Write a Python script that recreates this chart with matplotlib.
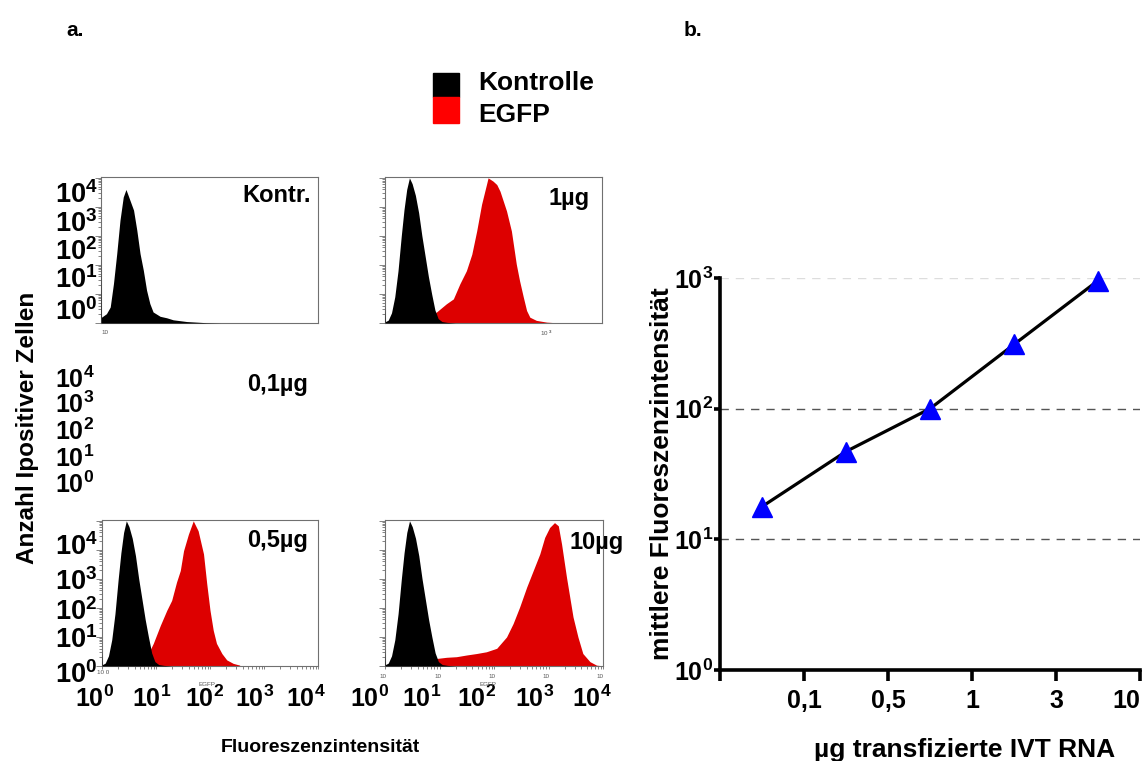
import numpy as np
import matplotlib
matplotlib.use('Agg')
import matplotlib.pyplot as plt
from matplotlib.patches import Rectangle
from matplotlib.ticker import LogLocator, NullLocator

plt.rcParams['font.family'] = 'Liberation Sans'
plt.rcParams['font.weight'] = 'bold'
plt.rcParams['mathtext.fontset'] = 'custom'
plt.rcParams['mathtext.bf'] = 'Liberation Sans:bold'
plt.rcParams['mathtext.rm'] = 'Liberation Sans:bold'
plt.rcParams['mathtext.default'] = 'bf'

W, H = 1145, 761

# --- histogram data (x: log10 Fluoreszenz, y: log10 Anzahl)
ctrl_kontr_x = [0.0, 0.01, 0.10, 0.17, 0.23, 0.29, 0.35, 0.41, 0.46, 0.50, 0.60, 0.66,
                0.72, 0.78, 0.84, 0.90, 0.96, 1.09, 1.21, 1.33, 1.58, 1.94, 2.2]
ctrl_kontr_y = [2.6, 0.2, 0.32, 0.55, 1.36, 2.39, 3.54, 4.34, 4.6, 4.4, 3.89, 3.2,
                2.39, 1.82, 1.13, 0.67, 0.38, 0.23, 0.18, 0.11, 0.05, 0.01, 0.0]

ctrl_x = [0.0, 0.01, 0.06, 0.12, 0.18, 0.24, 0.30, 0.35, 0.40, 0.45, 0.50, 0.56,
          0.62, 0.68, 0.74, 0.80, 0.86, 0.92, 0.98, 1.05, 1.15, 1.3, 1.5]
ctrl_y = [0.6, 0.05, 0.1, 0.35, 0.9, 1.8, 3.0, 3.9, 4.6, 5.0, 4.8, 4.4,
          3.8, 3.0, 2.3, 1.6, 1.0, 0.45, 0.15, 0.05, 0.02, 0.0, 0.0]

egfp_1ug_x = [0.58, 0.77, 0.95, 1.13, 1.26, 1.38, 1.50, 1.60, 1.69, 1.78, 1.87, 1.90, 1.99,
              2.06, 2.12, 2.24, 2.33, 2.42, 2.48, 2.55, 2.61, 2.67, 2.79, 2.98, 3.22]
egfp_1ug_y = [0.03, 0.2, 0.38, 0.66, 0.83, 1.35, 1.8, 2.37, 3.17, 4.09, 4.77, 5.0, 4.89,
              4.77, 4.54, 3.86, 3.17, 2.03, 1.46, 0.89, 0.43, 0.2, 0.09, 0.03, 0.0]

egfp_05ug_x = [0.46, 0.71, 0.83, 0.95, 1.08, 1.20, 1.29, 1.38, 1.45, 1.51, 1.60, 1.69,
               1.78, 1.88, 1.94, 2.00, 2.06, 2.12, 2.22, 2.31, 2.43, 2.55]
egfp_05ug_y = [0.03, 0.15, 0.32, 0.78, 1.4, 1.92, 2.26, 2.89, 3.29, 3.97, 4.54, 5.0,
               4.66, 3.86, 2.83, 1.92, 1.23, 0.78, 0.43, 0.21, 0.09, 0.03]

egfp_10ug_x = [0.43, 0.58, 0.76, 0.95, 1.13, 1.31, 1.50, 1.68, 1.86, 2.05, 2.23, 2.35, 2.47, 2.60,
               2.72, 2.84, 2.93, 3.02, 3.11, 3.18, 3.24, 3.33, 3.45, 3.54, 3.63, 3.76, 3.88, 3.97]
egfp_10ug_y = [0.03, 0.11, 0.18, 0.26, 0.30, 0.32, 0.38, 0.43, 0.49, 0.61, 1.0, 1.46, 2.03, 2.72,
               3.29, 3.86, 4.43, 4.77, 4.94, 4.83, 4.2, 3.06, 1.69, 1.0, 0.43, 0.15, 0.03, 0.01]

# --- panel b data
dose_labels = ['', '0,1', '0,5', '1', '3', '10']
mfi_pos = [0.5, 1.5, 2.5, 3.5, 4.5]
mfi = [17.8, 47, 100, 310, 955]

RED = '#dd0000'
GREY = '#707070'


def fx(px):
    return px / W


def fy(py):
    return 1 - py / H


def hist_axes(l, r, t, b):
    return fig.add_axes([fx(l), fy(b), (r - l) / W, (b - t) / H])


fig = plt.figure(figsize=(W / 100, H / 100), dpi=100)

panels = [
    (101, 318, 177, 323, (ctrl_kontr_x, ctrl_kontr_y), None, 'Kontr.', (277, 196), False),
    (385, 602, 177, 323, (ctrl_x, ctrl_y), (egfp_1ug_x, egfp_1ug_y), '1µg', (569, 198), False),
    (102, 318, 520, 666, (ctrl_x, ctrl_y), (egfp_05ug_x, egfp_05ug_y), '0,5µg', (278, 541), True),
    (385, 603, 520, 666, (ctrl_x, ctrl_y), (egfp_10ug_x, egfp_10ug_y), '10µg', (597, 543), True),
]
for l, r, t, b, blk, red, lab, (tx, ty), bottom_ticks in panels:
    ax = hist_axes(l, r, t, b)
    ax.set_xscale('log')
    ax.set_yscale('log')
    if red is not None:
        ax.fill_between(10 ** np.array(red[0]), 10 ** np.array(red[1]), 1,
                        color=RED, lw=0, zorder=2)
    ax.fill_between(10 ** np.array(blk[0]), 10 ** np.array(blk[1]), 1,
                    color='black', lw=0, zorder=3)
    ax.set_xlim(1, 1e4)
    ax.set_ylim(1, 10 ** 5.03)
    for s in ax.spines.values():
        s.set_color(GREY)
        s.set_linewidth(0.8)
    for axis in (ax.xaxis, ax.yaxis):
        axis.set_major_locator(LogLocator(base=10, numticks=10))
        axis.set_minor_locator(LogLocator(base=10, subs=np.arange(2, 10), numticks=20))
    ax.tick_params(axis='y', which='both', colors=GREY, labelleft=False, width=0.6)
    ax.tick_params(axis='y', which='major', length=4)
    ax.tick_params(axis='y', which='minor', length=2)
    if bottom_ticks:
        ax.tick_params(axis='x', which='both', colors=GREY, labelbottom=False, width=0.6,
                       length=2)
    else:
        ax.tick_params(axis='x', which='both', bottom=False, labelbottom=False)
    fig.text(fx(tx), fy(ty), lab, ha='center', va='center', fontsize=17, fontweight='bold')

# y label columns (overlay labels as in the reference)
col_y = {
    'tl': ([203, 232, 260, 288, 320], 19.5),
    'mid': ([388, 413, 440, 467, 493], 18),
    'bl': ([555, 590, 620, 648, 683], 19.5),
}
for ys, fs in col_y.values():
    for k, yy in zip([4, 3, 2, 1, 0], ys):
        fig.text(fx(55), fy(yy), r'$10^{%d}$' % k, ha='left', va='baseline', fontsize=fs)

fig.text(fx(278), fy(385), '0,1µg', ha='center', va='center', fontsize=17, fontweight='bold')

# x label rows under bottom panels
for xs in ([95, 152, 205, 255, 306], [370, 422, 477, 535, 592]):
    for k, xx in enumerate(xs):
        fig.text(fx(xx), fy(707), r'$10^{%d}$' % k, ha='center', va='baseline', fontsize=18)

# tiny instrument labels
small = dict(fontsize=4.5, color='#555555', fontweight='normal', ha='center', va='center')
fig.text(fx(105), fy(333), '10', **small)
fig.text(fx(547), fy(333), '10 $^{3}$', **small)
fig.text(fx(103), fy(673), '10 0', **small)
fig.text(fx(207), fy(684), 'EGFP', **small)
fig.text(fx(488), fy(684), 'EGFP', **small)
for xx in [383, 438, 492, 546, 600]:
    fig.text(fx(xx), fy(676), '10', **small)

# legend swatches
fig.add_artist(Rectangle((fx(433), fy(97)), 26 / W, 24 / H, color='black',
                         transform=fig.transFigure))
fig.add_artist(Rectangle((fx(433), fy(123)), 26 / W, 26 / H, color='#ff0000',
                         transform=fig.transFigure))
fig.text(fx(478), fy(83), 'Kontrolle', ha='left', va='center', fontsize=19, fontweight='bold')
fig.text(fx(478), fy(115), 'EGFP', ha='left', va='center', fontsize=19, fontweight='bold')

fig.text(fx(75), fy(30), 'a.', ha='center', va='center', fontsize=15, fontweight='bold')
fig.text(fx(693), fy(30), 'b.', ha='center', va='center', fontsize=15, fontweight='bold')

fig.text(fx(28), fy(428), 'Anzahl Ipositiver Zellen', rotation=90, ha='center', va='center',
         fontsize=17.5, fontweight='bold')
fig.text(fx(320), fy(748), 'Fluoreszenzintensität', ha='center', va='center',
         fontsize=14, fontweight='bold')

# --- panel b
axb = fig.add_axes([fx(720), fy(670), (1140 - 720) / W, (670 - 278) / H])
axb.set_yscale('log')
axb.set_xlim(0, 5)
axb.set_ylim(1, 1000)
for yv, c in [(10, '#555555'), (100, '#555555'), (1000, '#dddddd')]:
    axb.axhline(yv, color=c, lw=1, ls=(0, (6, 5)), zorder=0)
axb.plot(mfi_pos, mfi, color='black', lw=2.3, marker='^', ms=14,
         mfc='#0000ff', mec='#0000ff', clip_on=False, zorder=3)
axb.spines['right'].set_visible(False)
axb.spines['top'].set_visible(False)
axb.spines['left'].set_linewidth(2.6)
axb.spines['bottom'].set_linewidth(2.6)
axb.set_xticks(range(len(dose_labels)))
axb.set_xticklabels(dose_labels, fontsize=18, fontweight='bold')
axb.get_xticklabels()[-1].set_horizontalalignment('right')
axb.set_yticks([1, 10, 100, 1000])
axb.set_yticklabels([r'$10^{0}$', r'$10^{1}$', r'$10^{2}$', r'$10^{3}$'], fontsize=18)
axb.yaxis.set_minor_locator(NullLocator())
axb.tick_params(axis='x', length=8, width=2.6, pad=6)
axb.tick_params(axis='y', length=4, width=2.6, pad=1)
axb.set_ylabel('mittlere Fluoreszenzintensität', fontsize=19, fontweight='bold', labelpad=0)
fig.text(fx(965), fy(750), 'µg transfizierte IVT RNA', ha='center', va='center',
         fontsize=19, fontweight='bold')

fig.savefig('out.png', dpi=100)
